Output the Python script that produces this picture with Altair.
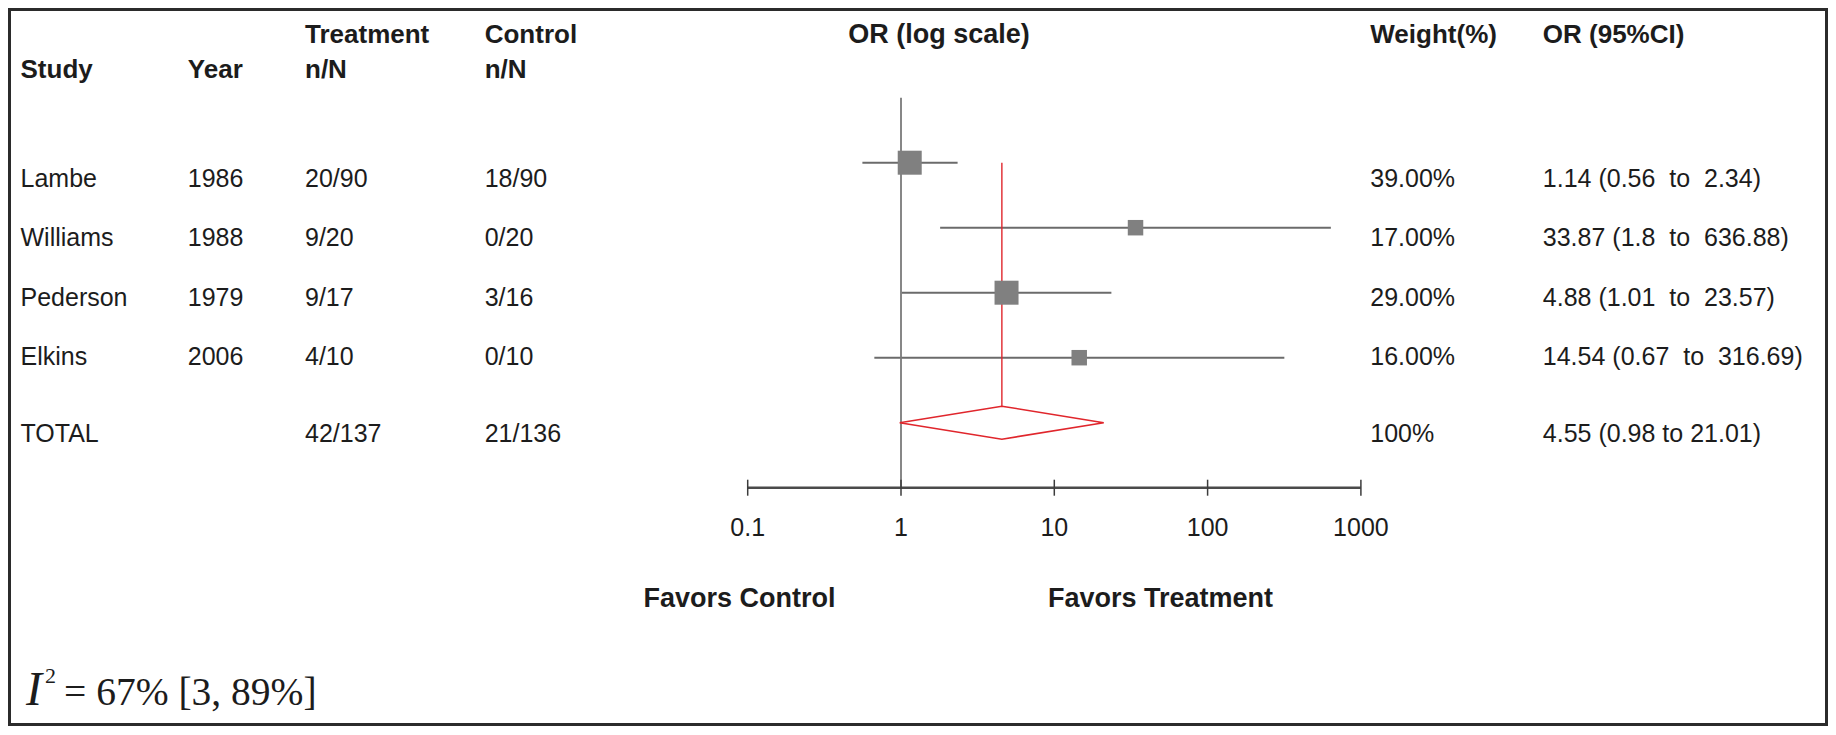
import altair as alt
import pandas as pd

# ---------------- data ----------------
studies = ["Lambe", "Williams", "Pederson", "Elkins"]
years = ["1986", "1988", "1979", "2006"]
treatment_nN = ["20/90", "9/20", "9/17", "4/10"]
control_nN = ["18/90", "0/20", "3/16", "0/10"]
odds_ratio = [1.14, 33.87, 4.88, 14.54]
ci_lower = [0.56, 1.8, 1.01, 0.67]
ci_upper = [2.34, 636.88, 23.57, 316.69]
weight_pct = [39.0, 17.0, 29.0, 16.0]

total_label = "TOTAL"
total_treatment = "42/137"
total_control = "21/136"
total_or = 4.55
total_lower = 0.98
total_upper = 21.01
total_weight = "100%"

null_value = 1
tick_values = [0.1, 1, 10, 100, 1000]
tick_labels = ["0.1", "1", "10", "100", "1000"]

header_line1 = {"treat": "Treatment", "ctrl": "Control", "weight": "Weight(%)", "orci": "OR (95%CI)"}
header_line2 = {"study": "Study", "year": "Year", "treat": "n/N", "ctrl": "n/N"}
forest_title = "OR (log scale)"
favors_control = "Favors Control"
favors_treatment = "Favors Treatment"
i2_symbol = "I"
i2_sup = "2"
i2_rest = "= 67% [3, 89%]"

# ---------------- layout (pixels inside the plot area) ----------------
W, H = 1820, 718
X_ONE, DECADE = 893.0, 153.3          # pixel of OR=1 and width of one decade
ROW0_Y, ROW_STEP = 154.7, 65.0         # marker row 0 and spacing
AXIS_ROW = 5
NULL_TOP_ROW = -1
DIAMOND_HALF = 16.5 / ROW_STEP
TOTAL_ROW = len(studies)

COLS = ["study", "year", "treat", "ctrl", "weight", "orci"]
COL_X = [12.5, 179.8, 297.0, 476.7, 1362.3, 1534.8]
CCOLS = ["fav_c", "orhead", "fav_t"]
CCOL_X = [731.5, 931.0, 1152.5]
ROWS = ["h1", "h2", "r0", "r1", "r2", "r3", "total", "fav"]
ROW_Y = [35.3, 70.3, 178.5, 237.5, 297.5, 356.5, 434.0, 599.3]

TEXT_COLOR = "#1c1c1c"
FONT = "Liberation Sans"
GREY_LINE = "#6b6b6b"
GREY_BOX = "#808080"
RED = "#e0262c"
WIDE = " \u00a0"   # wide gap used around "to" in the study rows

xs = alt.Scale(type="log", domain=[1, 10], range=[X_ONE, X_ONE + DECADE], nice=False)
ys = alt.Scale(domain=[0, 1], range=[ROW0_Y, ROW0_Y + ROW_STEP], nice=False, zero=False)
col_scale = alt.Scale(domain=list(range(len(COLS))), range=COL_X, nice=False, zero=False)
ccol_scale = alt.Scale(domain=list(range(len(CCOLS))), range=CCOL_X, nice=False, zero=False)
row_scale = alt.Scale(domain=list(range(len(ROWS))), range=ROW_Y, nice=False, zero=False)

# ---------------- tables ----------------
study_df = pd.DataFrame({
    "row": list(range(len(studies))),
    "or": odds_ratio, "lo": ci_lower, "hi": ci_upper, "w": weight_pct,
})
summary_df = pd.DataFrame({"or": [total_or], "lo": [total_lower], "hi": [total_upper]})
diamond_df = pd.DataFrame({
    "x": [total_lower, total_or, total_upper, total_or, total_lower],
    "y": [TOTAL_ROW, TOTAL_ROW - DIAMOND_HALF, TOTAL_ROW, TOTAL_ROW + DIAMOND_HALF, TOTAL_ROW],
    "o": [0, 1, 2, 3, 4],
})
tick_df = pd.DataFrame({"v": tick_values, "label": tick_labels})
one_df = pd.DataFrame({"v": [null_value]})

def cell(row, col, text, cols=COLS):
    return {"ri": ROWS.index(row), "ci": cols.index(col), "text": text}

head_cells = [cell("h1", k, v) for k, v in header_line1.items()] + \
             [cell("h2", k, v) for k, v in header_line2.items()]
head_df = pd.DataFrame(head_cells)

body_cells = []
for i, s in enumerate(studies):
    r = f"r{i}"
    ci_txt = f"{odds_ratio[i]:g} ({ci_lower[i]:g}{WIDE}to{WIDE}{ci_upper[i]:g})"
    body_cells += [cell(r, "study", s), cell(r, "year", years[i]),
                   cell(r, "treat", treatment_nN[i]), cell(r, "ctrl", control_nN[i]),
                   cell(r, "weight", f"{weight_pct[i]:.2f}%"), cell(r, "orci", ci_txt)]
body_cells += [cell("total", "study", total_label), cell("total", "treat", total_treatment),
               cell("total", "ctrl", total_control), cell("total", "weight", total_weight),
               cell("total", "orci", f"{total_or:g} ({total_lower:g} to {total_upper:g})")]
body_df = pd.DataFrame(body_cells)

center_df = pd.DataFrame([
    cell("h1", "orhead", forest_title, CCOLS),
    cell("fav", "fav_c", favors_control, CCOLS),
    cell("fav", "fav_t", favors_treatment, CCOLS),
])
i2_df = pd.DataFrame({"a": [i2_symbol], "b": [i2_sup], "c": [i2_rest]})

# ---------------- layers ----------------
ci_rules = alt.Chart(study_df).mark_rule(color=GREY_LINE, strokeWidth=2).encode(
    x=alt.X("lo:Q", scale=xs, axis=None), x2="hi:Q",
    y=alt.Y("row:Q", scale=ys, axis=None))

null_line = alt.Chart(one_df).mark_rule(color="#7a7a7a", strokeWidth=1.8).encode(
    x=alt.X("v:Q", scale=xs, axis=None),
    y=alt.YDatum(NULL_TOP_ROW, scale=ys, axis=None), y2=alt.Y2Datum(AXIS_ROW))

red_line = alt.Chart(summary_df).mark_rule(color=RED, strokeWidth=1.4).encode(
    x=alt.X("or:Q", scale=xs, axis=None),
    y=alt.YDatum(0, scale=ys, axis=None), y2=alt.Y2Datum(TOTAL_ROW - DIAMOND_HALF))

squares = alt.Chart(study_df).mark_square(color=GREY_BOX, opacity=1).encode(
    x=alt.X("or:Q", scale=xs, axis=None),
    y=alt.Y("row:Q", scale=ys, axis=None),
    size=alt.Size("w:Q", scale=alt.Scale(type="threshold", domain=[25], range=[240, 576]), legend=None))

diamond = alt.Chart(diamond_df).mark_line(color=RED, strokeWidth=1.6).encode(
    x=alt.X("x:Q", scale=xs, axis=None),
    y=alt.Y("y:Q", scale=ys, axis=None),
    order="o:Q")

axis_line = alt.Chart(one_df).mark_rule(color="#4a4a4a", strokeWidth=2.5).encode(
    x=alt.XDatum(tick_values[0], scale=xs, axis=None), x2=alt.X2Datum(tick_values[-1]),
    y=alt.YDatum(AXIS_ROW, scale=ys, axis=None))

ticks = alt.Chart(tick_df).mark_tick(orient="vertical", size=16, thickness=1.5, color="#3c3c3c", opacity=1).encode(
    x=alt.X("v:Q", scale=xs, axis=None),
    y=alt.YDatum(AXIS_ROW, scale=ys, axis=None))

tick_text = alt.Chart(tick_df).mark_text(
    dy=48, baseline="alphabetic", align="center", font=FONT, fontSize=25, color=TEXT_COLOR).encode(
    x=alt.X("v:Q", scale=xs, axis=None),
    y=alt.YDatum(AXIS_ROW, scale=ys, axis=None),
    text="label:N")

head_text = alt.Chart(head_df).mark_text(
    align="left", baseline="alphabetic", font=FONT, fontSize=26, fontWeight="bold", color=TEXT_COLOR).encode(
    x=alt.X("ci:Q", scale=col_scale, axis=None),
    y=alt.Y("ri:Q", scale=row_scale, axis=None),
    text="text:N")

body_text = alt.Chart(body_df).mark_text(
    align="left", baseline="alphabetic", font=FONT, fontSize=25, color=TEXT_COLOR).encode(
    x=alt.X("ci:Q", scale=col_scale, axis=None),
    y=alt.Y("ri:Q", scale=row_scale, axis=None),
    text="text:N")

center_text = alt.Chart(center_df).mark_text(
    align="center", baseline="alphabetic", font=FONT, fontSize=27, fontWeight="bold", color=TEXT_COLOR).encode(
    x=alt.X("ci:Q", scale=ccol_scale, axis=None),
    y=alt.Y("ri:Q", scale=row_scale, axis=None),
    text="text:N")

i2_a = alt.Chart(i2_df).mark_text(
    align="left", baseline="alphabetic", font="Liberation Serif", fontStyle="italic",
    fontSize=48, color=TEXT_COLOR).encode(x=alt.value(18), y=alt.value(697), text="a:N")
i2_b = alt.Chart(i2_df).mark_text(
    align="left", baseline="alphabetic", font="Liberation Serif",
    fontSize=22, color=TEXT_COLOR).encode(x=alt.value(37), y=alt.value(675), text="b:N")
i2_c = alt.Chart(i2_df).mark_text(
    align="left", baseline="alphabetic", font="Liberation Serif",
    fontSize=39.5, color=TEXT_COLOR).encode(x=alt.value(56), y=alt.value(697), text="c:N")

chart = alt.layer(
    ci_rules, null_line, red_line, squares, diamond, axis_line, ticks, tick_text,
    head_text, body_text, center_text, i2_a, i2_b, i2_c,
).resolve_scale(x="independent", y="independent").properties(
    width=W, height=H, padding=0, autosize=alt.AutoSizeParams(type="none"),
    background="white",
).configure_view(stroke="#2b2b2b", strokeWidth=6)

chart.save("out.html", embed_options={"renderer": "svg", "actions": False})
